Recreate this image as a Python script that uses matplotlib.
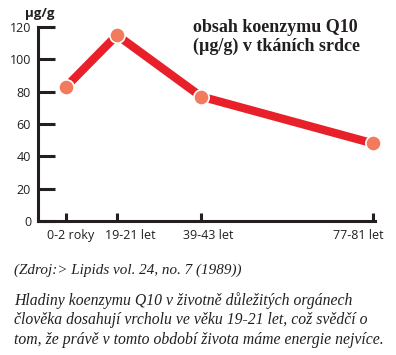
import matplotlib
matplotlib.use("Agg")
import matplotlib.pyplot as plt

# data
age_groups = ["0-2 roky", "19-21 let", "39-43 let", "77-81 let"]
q10_levels = [83, 115, 77, 48]
y_ticks = [0, 20, 40, 60, 80, 100, 120]

# horizontal placement of the age groups (uneven, as in the original)
xpos = [28, 79, 163, 335]
# the labels are not centred under their ticks in the original
label_pos = [33, 92, 170, 320]

W, H = 396, 355
fig = plt.figure(figsize=(W / 100, H / 100), dpi=100)
ax = fig.add_axes([38 / W, (H - 221) / H, 337 / W, 194 / H])

red = "#e8202a"
ink = "#231f20"
ax.plot(xpos, q10_levels, color=red, lw=6, solid_capstyle="butt", zorder=2, clip_on=False)
ax.plot(xpos, q10_levels, "o", ms=11, mfc="#f27b5e", mec="white", mew=1.2, zorder=3, clip_on=False)

ax.set_xlim(0, 337)
ax.set_ylim(0, 120)
for s in ["top", "right"]:
    ax.spines[s].set_visible(False)
for s in ["left", "bottom"]:
    ax.spines[s].set_linewidth(2.2)
    ax.spines[s].set_color(ink)

tick_font = dict(family="Open Sans", size=9)
ax.set_yticks(y_ticks)
ax.set_yticklabels([str(v) for v in y_ticks], **tick_font, color=ink)
ax.set_xticks(xpos)
ax.set_xticklabels([""] * len(xpos))
ax.set_xticks(label_pos, minor=True)
ax.set_xticklabels(age_groups, minor=True, **tick_font, color=ink)
ax.tick_params(axis="y", direction="in", length=12, width=2.2, color=ink, pad=5)
ax.tick_params(axis="x", which="major", direction="in", length=6, width=2.2, color=ink)
ax.tick_params(axis="x", which="minor", length=0, pad=6)
ax.set_facecolor("none")

fig.text(40 / W, 1 - 13 / H, "µg/g", ha="center", va="center",
         family="Open Sans", weight="bold", size=9.5, color=ink)
fig.text(193 / W, 1 - 37 / H, "obsah koenzymu Q10\n(µg/g) v tkáních srdce", ha="left", va="center",
         family="Liberation Serif", weight="bold", size=13, color=ink, linespacing=1.1)

fig.text(14 / W, 1 - 270 / H, "(Zdroj:> Lipids vol. 24, no. 7 (1989))", ha="left", va="center",
         family="Liberation Serif", style="italic", size=10.9, color=ink)
fig.text(14 / W, 1 - 320 / H,
         "Hladiny koenzymu Q10 v životně důležitých orgánech\n"
         "člověka dosahují vrcholu ve věku 19-21 let, což svědčí o\n"
         "tom, že právě v tomto období života máme energie nejvíce.",
         ha="left", va="center", family="Liberation Serif", style="italic",
         size=11.3, color=ink, linespacing=1.3)

fig.savefig("out.png", dpi=100)
